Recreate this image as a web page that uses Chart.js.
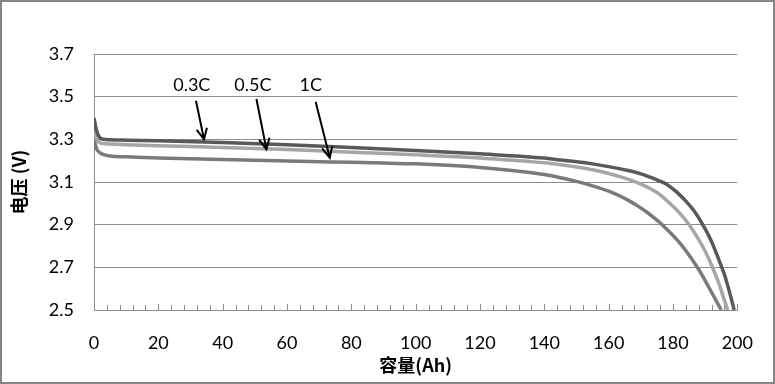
<!DOCTYPE html>
<html>
<head>
<meta charset="utf-8">
<script src="https://cdn.jsdelivr.net/npm/chart.js@4"></script>
<style>
  html, body { margin: 0; padding: 0; background: #fff; }
  #wrap { width: 775px; height: 384px; }
</style>
</head>
<body>
<div id="wrap"><canvas id="chart" width="775" height="384"></canvas></div>
<script>
// 放电曲线数据 (容量 Ah, 电压 V)
const cap03 = [0, 0.5, 1, 2, 3, 5, 10, 20, 40, 60, 80, 100, 120, 140, 145, 150, 155, 160, 165, 170, 175, 178, 181, 184, 187, 190, 192, 194, 196, 198, 199];
const volt03 = [3.40, 3.36, 3.33, 3.305, 3.30, 3.298, 3.296, 3.293, 3.285, 3.275, 3.262, 3.248, 3.232, 3.212, 3.203, 3.195, 3.185, 3.172, 3.157, 3.138, 3.11, 3.09, 3.055, 3.01, 2.955, 2.88, 2.82, 2.745, 2.665, 2.56, 2.5];

const cap05 = [0, 0.5, 1, 2, 3, 5, 10, 20, 40, 60, 80, 100, 120, 140, 145, 150, 155, 160, 165, 170, 173, 176, 179, 182, 185, 188, 190, 192, 194, 196, 197];
const volt05 = [3.34, 3.31, 3.295, 3.283, 3.28, 3.278, 3.275, 3.27, 3.262, 3.252, 3.24, 3.228, 3.212, 3.19, 3.181, 3.17, 3.157, 3.14, 3.118, 3.09, 3.068, 3.04, 3.0, 2.955, 2.9, 2.83, 2.775, 2.71, 2.635, 2.545, 2.5];

const cap1 = [0, 0.5, 1, 2, 3, 5, 10, 20, 40, 60, 80, 90, 100, 110, 120, 130, 140, 145, 150, 155, 160, 163, 166, 169, 172, 175, 178, 181, 184, 187, 189, 191, 193, 195];
const volt1 = [3.31, 3.27, 3.25, 3.235, 3.228, 3.222, 3.218, 3.213, 3.205, 3.198, 3.192, 3.189, 3.185, 3.178, 3.168, 3.154, 3.135, 3.12, 3.103, 3.082, 3.057, 3.038, 3.015, 2.988, 2.957, 2.921, 2.88, 2.833, 2.778, 2.713, 2.665, 2.61, 2.555, 2.5];

const seriesNames = ['0.3C', '0.5C', '1C'];
const yTicks = [2.5, 2.7, 2.9, 3.1, 3.3, 3.5, 3.7];
const xTicks = [0, 20, 40, 60, 80, 100, 120, 140, 160, 180, 200];

// 箭头标注 (数据坐标)
const noteText = [30.4, 49.4, 67.4];
const noteTextY = 3.555;
const arrowFrom = [[31.7, 3.481], [50.5, 3.489], [68.9, 3.476]];
const arrowTo = [[34.2, 3.300], [53.6, 3.253], [73.3, 3.214]];

function toPoints(xs, ys) {
  return xs.map((x, i) => ({ x: x, y: ys[i] }));
}

const FONT = 'Lato, "Noto Sans", sans-serif';
const CJK = '"Noto Sans CJK SC", "Noto Sans", sans-serif';

const framePlugin = {
  id: 'frame',
  beforeDraw(chart) {
    const ctx = chart.ctx;
    ctx.save();
    ctx.fillStyle = '#fff';
    ctx.fillRect(0, 0, chart.width, chart.height);
    ctx.restore();
  },
  afterDraw(chart) {
    const ctx = chart.ctx;
    const xs = chart.scales.x;
    const ys = chart.scales.y;
    ctx.save();
    // x 轴刻度线 (向内)
    ctx.strokeStyle = '#8c8c8c';
    ctx.lineWidth = 1;
    for (let v = 0; v <= 200; v += 4) {
      const px = Math.round(xs.getPixelForValue(v)) + 0.5;
      const len = v % 20 === 0 ? 6 : 5;
      ctx.beginPath();
      ctx.moveTo(px, ys.bottom);
      ctx.lineTo(px, ys.bottom - len);
      ctx.stroke();
    }
    // 标注
    ctx.fillStyle = '#000';
    ctx.strokeStyle = '#000';
    ctx.lineWidth = 2;
    ctx.font = '18px ' + FONT;
    ctx.textAlign = 'center';
    ctx.textBaseline = 'middle';
    seriesNames.forEach((name, i) => {
      ctx.fillText(name, xs.getPixelForValue(noteText[i]), ys.getPixelForValue(noteTextY));
      const x1 = xs.getPixelForValue(arrowFrom[i][0]);
      const y1 = ys.getPixelForValue(arrowFrom[i][1]);
      const x2 = xs.getPixelForValue(arrowTo[i][0]);
      const y2 = ys.getPixelForValue(arrowTo[i][1]);
      ctx.beginPath();
      ctx.moveTo(x1, y1);
      ctx.lineTo(x2, y2);
      const a = Math.atan2(y2 - y1, x2 - x1);
      const h = 12;
      ctx.moveTo(x2 - h * Math.cos(a - 0.45), y2 - h * Math.sin(a - 0.45));
      ctx.lineTo(x2, y2);
      ctx.lineTo(x2 - h * Math.cos(a + 0.45), y2 - h * Math.sin(a + 0.45));
      ctx.stroke();
    });
    // 外框
    ctx.strokeStyle = '#868686';
    ctx.lineWidth = 2;
    ctx.strokeRect(1, 1, chart.width - 2, chart.height - 2);
    ctx.restore();
  }
};

const ctx = document.getElementById('chart').getContext('2d');
new Chart(ctx, {
  type: 'scatter',
  data: {
    datasets: [
      { label: seriesNames[0], data: toPoints(cap03, volt03), borderColor: '#595959', order: 1 },
      { label: seriesNames[1], data: toPoints(cap05, volt05), borderColor: '#a6a6a6', order: 2 },
      { label: seriesNames[2], data: toPoints(cap1, volt1), borderColor: '#7a7a7a', order: 3 }
    ]
  },
  options: {
    responsive: false,
    animation: false,
    showLine: true,
    layout: { padding: { left: 0, top: 54, right: 37, bottom: 0 } },
    elements: {
      point: { radius: 0, hoverRadius: 0 },
      line: { borderWidth: 3.5, cubicInterpolationMode: 'monotone', fill: false }
    },
    plugins: {
      legend: { display: false },
      tooltip: { enabled: false }
    },
    scales: {
      x: {
        type: 'linear',
        min: 0,
        max: 200,
        afterFit: s => { s.height = 74; },
        afterBuildTicks: s => { s.ticks = xTicks.map(v => ({ value: v })); },
        grid: { display: false, drawTicks: false },
        border: { display: true, color: '#8c8c8c', width: 1 },
        ticks: { padding: 22, color: '#000', font: { family: FONT, size: 18 } },
        title: {
          display: true,
          text: '容量(Ah)',
          color: '#000',
          font: { family: CJK, size: 18, weight: 'bold' },
          padding: { top: 0, bottom: 8 }
        }
      },
      y: {
        min: 2.5,
        max: 3.7,
        afterFit: s => { s.width = 94; },
        afterBuildTicks: s => { s.ticks = yTicks.map(v => ({ value: v })); },
        grid: { color: '#8c8c8c', lineWidth: 1, drawTicks: false },
        border: { display: true, color: '#8c8c8c', width: 1 },
        ticks: {
          padding: 20,
          color: '#000',
          font: { family: FONT, size: 18 },
          callback: v => Number(v).toFixed(1)
        },
        title: {
          display: true,
          text: '电压 (V)',
          color: '#000',
          font: { family: CJK, size: 18, weight: 'bold' },
          padding: { top: 8, bottom: 0 }
        }
      }
    }
  },
  plugins: [framePlugin]
});
</script>
</body>
</html>
